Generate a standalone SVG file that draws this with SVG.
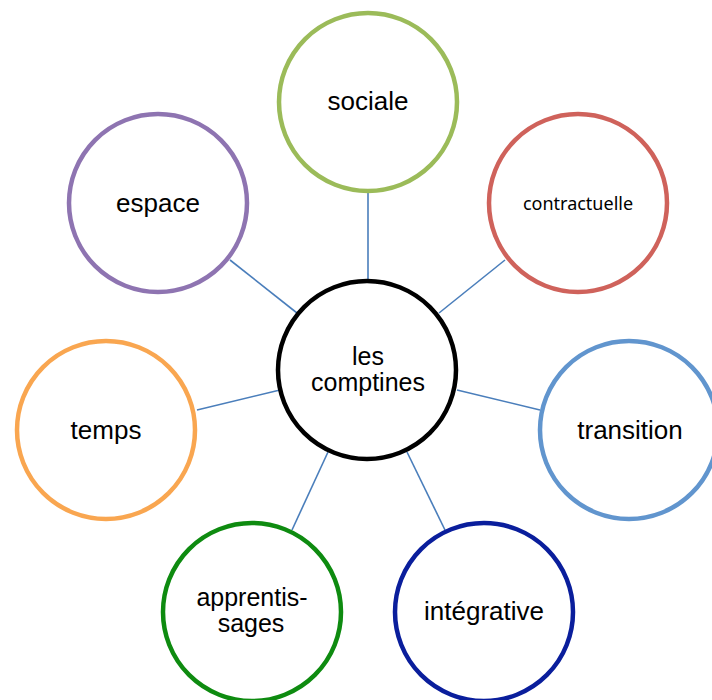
<svg xmlns="http://www.w3.org/2000/svg" width="712" height="700" viewBox="0 0 712 700">
<style>
.n{fill:#fff;stroke-width:4.5}
.t{font-family:"Liberation Sans",Arial,sans-serif;font-size:26px;fill:#000;text-anchor:middle}
.m{font-family:"Liberation Sans",Arial,sans-serif;font-size:25px;fill:#000;text-anchor:middle}
.s{font-family:"Noto Sans","Open Sans",sans-serif;font-size:18px;fill:#000;text-anchor:middle}
.c line{stroke:#4A7EBB;stroke-width:1.6}
</style>
<rect width="712" height="700" fill="#fff"/>
<g class="c" id="connectors">
<line x1="368" y1="193" x2="368" y2="280"/>
<line x1="230" y1="260" x2="297" y2="313"/>
<line x1="505" y1="260" x2="439" y2="313"/>
<line x1="197" y1="410" x2="280" y2="390"/>
<line x1="540" y1="410" x2="457" y2="390"/>
<line x1="292" y1="530" x2="328" y2="452"/>
<line x1="445" y1="530" x2="407" y2="452"/>
</g>
<g id="center"><circle class="n" cx="367" cy="370" r="89" stroke="#000"/><text class="m" x="368" y="365">les</text><text class="m" x="368" y="391">comptines</text></g>
<g id="sociale"><circle class="n" cx="368" cy="102" r="89" stroke="#9BBB59"/><text class="t" x="368" y="110">sociale</text></g>
<g id="contractuelle"><circle class="n" cx="578" cy="203" r="89" stroke="#CF625B"/><text class="s" x="578" y="210">contractuelle</text></g>
<g id="espace"><circle class="n" cx="158" cy="203" r="89" stroke="#8E74B1"/><text class="t" x="158" y="212">espace</text></g>
<g id="temps"><circle class="n" cx="106" cy="430" r="89" stroke="#F9A650"/><text class="t" x="106" y="439">temps</text></g>
<g id="transition"><circle class="n" cx="629" cy="430" r="89" stroke="#6195CE"/><text class="t" x="630" y="439">transition</text></g>
<g id="apprentissages"><circle class="n" cx="252" cy="612" r="89" stroke="#0E8B10"/><text class="m" x="252" y="606">apprentis-</text><text class="m" x="251" y="632">sages</text></g>
<g id="integrative"><circle class="n" cx="484" cy="612" r="89" stroke="#0A1E9C"/><text class="t" x="484" y="620">intégrative</text></g>
</svg>
